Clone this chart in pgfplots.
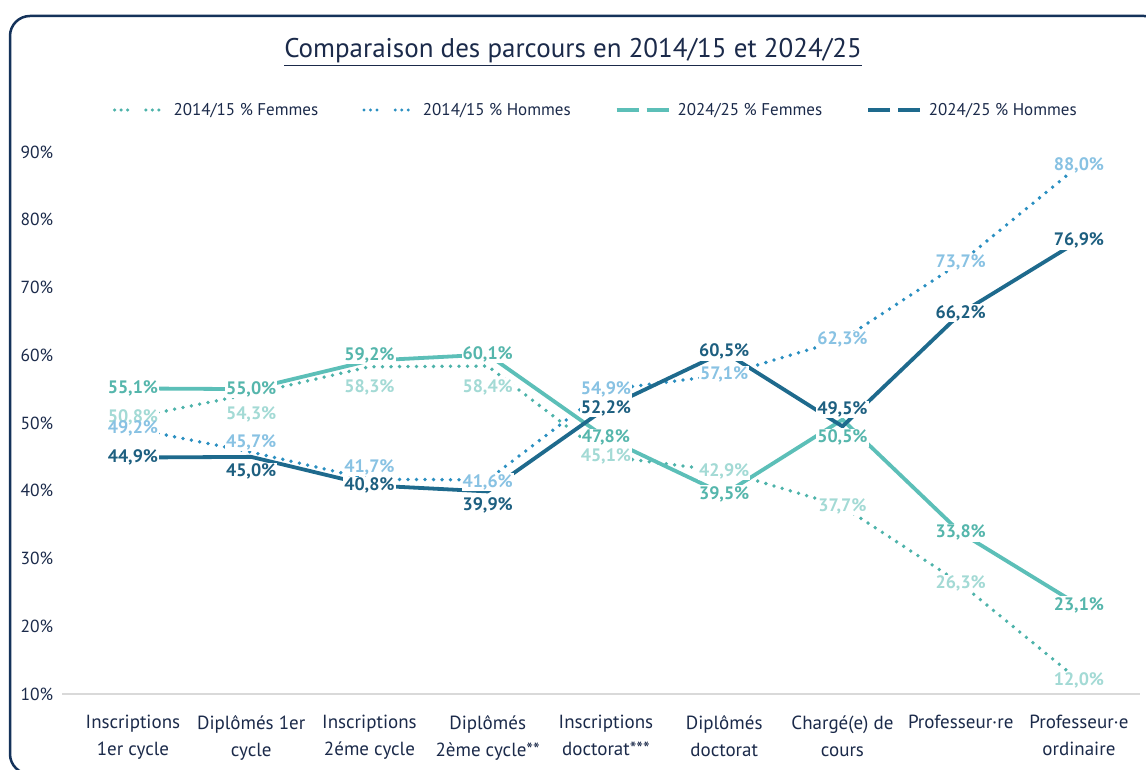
\documentclass[border=0pt]{standalone}
\usepackage{fontspec}
\setmainfont{PT Sans}
\usepackage{pgfplots}
\pgfplotsset{compat=1.18}
\definecolor{txt}{HTML}{1B2A4A}
\definecolor{frame}{HTML}{14325A}
\definecolor{gridc}{HTML}{D9D9D9}
\definecolor{cF14}{HTML}{4DB3AA}
\definecolor{cH14}{HTML}{2A8FC1}
\definecolor{cF24}{HTML}{5CBFB8}
\definecolor{cH24}{HTML}{1E6A8D}
\definecolor{lF14}{HTML}{A3DAD5}
\definecolor{lH14}{HTML}{88C2E3}
\definecolor{lF24}{HTML}{55B6AC}
\definecolor{lH24}{HTML}{1D5F80}
\pgfplotsset{/pgf/number format/assume math mode=true}
\newcommand{\lbl}{\textbf{\pgfmathprintnumber[fixed,fixed zerofill,precision=1,use comma,assume math mode=true]{\pgfplotspointmeta}\%}}
\pgfplotsset{
  dotleg/.style={legend image code/.code={\draw[#1, line width=3.4bp, line cap=round, dash pattern=on 0bp off 6.5bp] (1.7bp,0bp) -- (15bp,0bp); \draw[#1, line width=3.4bp, line cap=round, dash pattern=on 0bp off 6.5bp] (33bp,0bp) -- (52bp,0bp);}},
  solleg/.style={legend image code/.code={\draw[#1, line width=3.8bp, dash pattern=on 22bp off 8bp] (0bp,0bp) -- (52bp,0bp);}},
}
\begin{document}
\begin{tikzpicture}
\clip (0,0) rectangle (1146bp,770bp);
\fill[white] (0,0) rectangle (1146bp,770bp);
\draw[frame, line width=2.5bp, rounded corners=20bp] (10bp,-4bp) rectangle (1164bp,754bp);
\node[txt, font=\fontsize{27bp}{32bp}\selectfont] at (573bp,718bp) {\underline{Comparaison des parcours en 2014/15 et 2024/25}};
\begin{axis}[
  at={(62bp,76bp)}, anchor=south west,
  x=118.25bp, y=6.775bp,
  xmin=-0.6, xmax=8.52, ymin=10, ymax=90,
  clip=false,
  axis x line=bottom, axis y line=left,
  axis line style={-},
  x axis line style={draw=gridc, line width=1.2bp},
  y axis line style={draw=none},
  tick style={draw=none}, major tick length=0pt,
  xtick={0,...,8},
  xticklabels={Inscriptions\\1er cycle, Diplômés 1er\\cycle, Inscriptions\\2éme cycle, Diplômés\\2ème cycle**, Inscriptions\\doctorat***, Diplômés\\doctorat, Chargé(e) de\\cours, Professeur·re, Professeur·e\\ordinaire},
  xticklabel style={align=center, anchor=north, yshift=-18bp, font=\fontsize{19bp}{27bp}\selectfont, text=txt},
  ytick={10,20,...,90},
  yticklabel={\pgfmathprintnumber{\tick}\%},
  yticklabel style={anchor=west, xshift=-45bp, font=\fontsize{17.5bp}{20bp}\selectfont, text=txt},
  legend columns=4,
  legend cell align=left,
  legend style={at={(axis description cs:0.495,1)}, anchor=center, yshift=42bp, draw=none, fill=none,
    font=\fontsize{17bp}{20bp}\selectfont, text=txt,
    /tikz/every odd column/.append style={column sep=5bp},
    /tikz/every even column/.append style={column sep=42bp}},
  every node near coord/.append style={anchor=center, inner sep=1bp, font=\fontsize{18bp}{20bp}\selectfont},
  point meta=explicit,
]
% lines
\addplot[cF14, line width=3.8bp, line cap=round, dash pattern=on 0bp off 8.5bp, dotleg]
  coordinates {(0,50.8) (1,54.3) (2,58.3) (3,58.4) (4,45.1) (5,42.9) (6,37.7) (7,26.3) (8,12.0)};
\addlegendentry{2014/15 \% Femmes}
\addplot[cH14, line width=3.8bp, line cap=round, dash pattern=on 0bp off 8.5bp, dotleg]
  coordinates {(0,49.2) (1,45.7) (2,41.7) (3,41.6) (4,54.9) (5,57.1) (6,62.3) (7,73.7) (8,88.0)};
\addlegendentry{2014/15 \% Hommes}
\addplot[cF24, line width=3.8bp, line join=round, solleg]
  coordinates {(0,55.1) (1,55.0) (2,59.2) (3,60.1) (4,47.8) (5,39.5) (6,50.5) (7,33.8) (8,23.1)};
\addlegendentry{2024/25 \% Femmes}
\addplot[cH24, line width=3.8bp, line join=round, solleg]
  coordinates {(0,44.9) (1,45.0) (2,40.8) (3,39.9) (4,52.2) (5,60.5) (6,49.5) (7,66.2) (8,76.9)};
\addlegendentry{2024/25 \% Hommes}
% white boxes behind labels (label position, value)
\addplot[draw=none, forget plot, nodes near coords={\phantom{\lbl}}, every node near coord/.append style={fill=white}]
  coordinates {(0,50.8)[50.8] (1,51.2)[54.3] (2,55.2)[58.3] (3,55.3)[58.4] (4,45.1)[45.1] (5,42.9)[42.9] (6,37.7)[37.7] (7,26.3)[26.3] (8,12.0)[12.0]};
\addplot[draw=none, forget plot, nodes near coords={\phantom{\lbl}}, every node near coord/.append style={fill=white}]
  coordinates {(0,49.2)[49.2] (1,47.2)[45.7] (2,43.5)[41.7] (3,41.3)[41.6] (4,54.9)[54.9] (5,57.1)[57.1] (6,62.3)[62.3] (7,73.7)[73.7] (8,88.0)[88.0]};
\addplot[draw=none, forget plot, nodes near coords={\phantom{\lbl}}, every node near coord/.append style={fill=white}]
  coordinates {(0,55.1)[55.1] (1,55.0)[55.0] (2,60.0)[59.2] (3,60.1)[60.1] (4,47.8)[47.8] (5,39.5)[39.5] (6,47.8)[50.5] (7,33.8)[33.8] (8,23.1)[23.1]};
\addplot[draw=none, forget plot, nodes near coords={\phantom{\lbl}}, every node near coord/.append style={fill=white}]
  coordinates {(0,44.9)[44.9] (1,42.8)[45.0] (2,40.8)[40.8] (3,37.9)[39.9] (4,52.2)[52.2] (5,60.5)[60.5] (6,52.0)[49.5] (7,66.2)[66.2] (8,76.9)[76.9]};
% label texts
\addplot[draw=none, forget plot, nodes near coords={\lbl}, every node near coord/.append style={text=lF14}]
  coordinates {(0,50.8)[50.8] (1,51.2)[54.3] (2,55.2)[58.3] (3,55.3)[58.4] (4,45.1)[45.1] (5,42.9)[42.9] (6,37.7)[37.7] (7,26.3)[26.3] (8,12.0)[12.0]};
\addplot[draw=none, forget plot, nodes near coords={\lbl}, every node near coord/.append style={text=lH14}]
  coordinates {(0,49.2)[49.2] (1,47.2)[45.7] (2,43.5)[41.7] (3,41.3)[41.6] (4,54.9)[54.9] (5,57.1)[57.1] (6,62.3)[62.3] (7,73.7)[73.7] (8,88.0)[88.0]};
\addplot[draw=none, forget plot, nodes near coords={\lbl}, every node near coord/.append style={text=lF24}]
  coordinates {(0,55.1)[55.1] (1,55.0)[55.0] (2,60.0)[59.2] (3,60.1)[60.1] (4,47.8)[47.8] (5,39.5)[39.5] (6,47.8)[50.5] (7,33.8)[33.8] (8,23.1)[23.1]};
\addplot[draw=none, forget plot, nodes near coords={\lbl}, every node near coord/.append style={text=lH24}]
  coordinates {(0,44.9)[44.9] (1,42.8)[45.0] (2,40.8)[40.8] (3,37.9)[39.9] (4,52.2)[52.2] (5,60.5)[60.5] (6,52.0)[49.5] (7,66.2)[66.2] (8,76.9)[76.9]};
\end{axis}
\end{tikzpicture}
\end{document}
